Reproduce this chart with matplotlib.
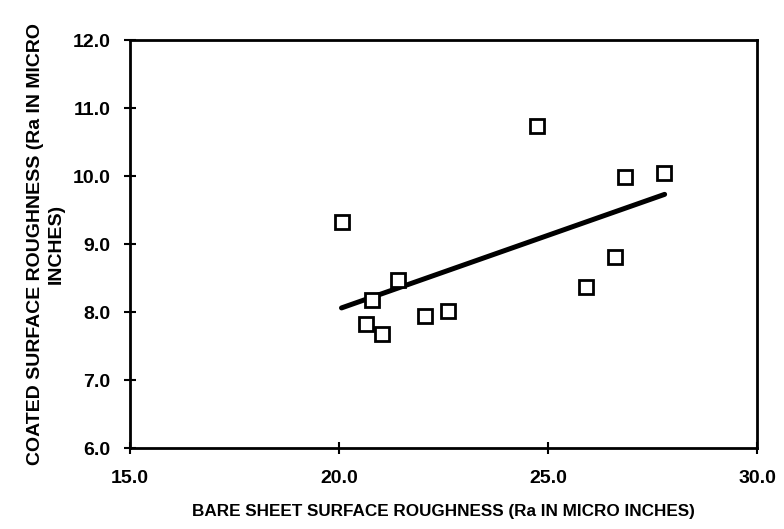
import matplotlib
matplotlib.use("Agg")
import matplotlib.pyplot as plt

bare = [20.06, 24.73, 26.85, 27.77, 26.60, 25.92, 21.40, 20.78, 20.65, 21.04, 22.05, 22.60]
coated = [9.32, 10.74, 9.98, 10.04, 8.81, 8.37, 8.47, 8.18, 7.82, 7.68, 7.94, 8.02]
fit_x = [20.06, 27.79]
fit_y = [8.06, 9.73]
xticks = [15.0, 20.0, 25.0, 30.0]
yticks = [6.0, 7.0, 8.0, 9.0, 10.0, 11.0, 12.0]

plt.rcParams['font.family'] = ['Liberation Sans', 'DejaVu Sans']
fig = plt.figure(figsize=(7.84, 5.29), dpi=100)
ax = fig.add_axes([130/784, 1-448/529, (757-130)/784, (448-40)/529])

ax.plot(bare, coated, linestyle='none', marker='s', markersize=9.5,
        markerfacecolor='white', markeredgecolor='black', markeredgewidth=2.0, zorder=3)
ax.plot(fit_x, fit_y, color='black', linewidth=3.6, solid_capstyle='round', zorder=2)

ax.set_xlim(15, 30)
ax.set_ylim(6, 12)
ax.set_xticks(xticks)
ax.set_yticks(yticks)
ax.set_xticklabels([f"{v:.1f}" for v in xticks], fontsize=14, fontweight='bold')
ax.set_yticklabels([f"{v:.1f}" for v in yticks], fontsize=14, fontweight='bold')
ax.tick_params(axis='x', direction='inout', length=8, width=1.5, pad=12)
ax.tick_params(axis='y', direction='inout', length=8, width=1.5, pad=10)
for s in ax.spines.values():
    s.set_linewidth(2.0)

ax.set_xlabel("BARE SHEET SURFACE ROUGHNESS (Ra IN MICRO INCHES)", fontsize=12.3,
              fontweight='bold', labelpad=12)
ax.set_ylabel("COATED SURFACE ROUGHNESS (Ra IN MICRO\nINCHES)", fontsize=14,
              fontweight='bold', linespacing=1.3)
ax.yaxis.set_label_coords(-0.104, 0.5)

fig.savefig("out.png", dpi=100)
